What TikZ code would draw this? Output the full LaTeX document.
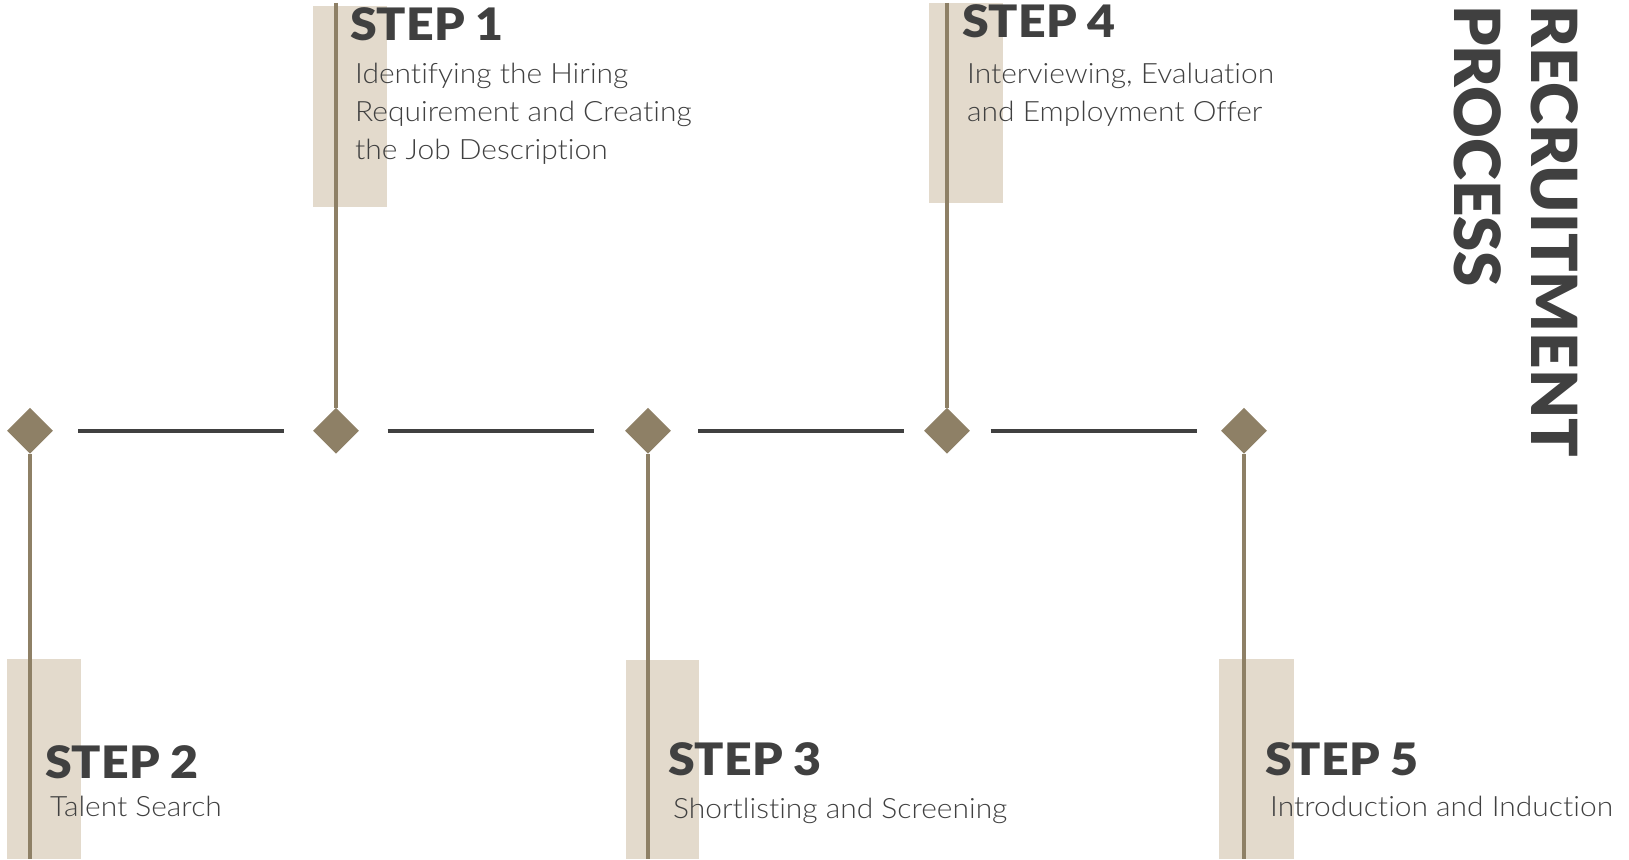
\documentclass[tikz,border=0pt]{standalone}
\usepackage{fontspec}
\usetikzlibrary{shapes.geometric}
\newfontfamily\headfont[FakeStretch=1.08]{Lato Black}
\newfontfamily\titlefont{Lato Black}
\newfontfamily\bodyfont[FakeStretch=1.07,Ligatures={NoCommon}]{Lato Light}
\definecolor{ink}{HTML}{404040}
\definecolor{taupe}{HTML}{8E8066}
\definecolor{sand}{HTML}{E3DACC}
\tikzset{
  mark node/.style={diamond, fill=taupe, draw=none, inner sep=0pt, minimum width=46pt, minimum height=46pt},
  band/.style={fill=sand, draw=none},
  stem/.style={draw=taupe, line width=3.2pt},
  rail/.style={draw=ink, line width=4pt},
  stephead/.style={anchor=base west, inner sep=0pt, text=ink, font=\headfont\fontsize{44.7}{50}\selectfont},
  stepbody/.style={anchor=base west, inner sep=0pt, text=ink, align=left, font=\bodyfont\fontsize{28}{38}\selectfont},
  titletext/.style={anchor=base west, inner sep=0pt, rotate=-90, text=ink, font=\titlefont\fontsize{63.6}{70}\selectfont}
}
\begin{document}
\begin{tikzpicture}[x=1pt,y=-1pt]
\useasboundingbox[fill=white] (0,0) rectangle (1629,859);
% bands
\fill[band] (313,6) rectangle (387,207);
\fill[band] (929,3) rectangle (1003,203);
\fill[band] (7,659) rectangle (81,859);
\fill[band] (626,660) rectangle (699,859);
\fill[band] (1219,659) rectangle (1294,859);
% diamonds
\node[mark node] (d1) at (30,430.7) {};
\node[mark node] (d2) at (336,430.7) {};
\node[mark node] (d3) at (648,430.7) {};
\node[mark node] (d4) at (947,430.7) {};
\node[mark node] (d5) at (1244,430.7) {};
% stem ends
\coordinate (t1) at (336,3);
\coordinate (t4) at (947,3);
\coordinate (b2) at (30,859);
\coordinate (b3) at (648,859);
\coordinate (b5) at (1244,859);
\draw[stem] (t1) -- (d2.north);
\draw[stem] (t4) -- (d4.north);
\draw[stem] (d1.south) -- (b2);
\draw[stem] (d3.south) -- (b3);
\draw[stem] (d5.south) -- (b5);
% rails
\draw[rail, shorten <=25pt, shorten >=29pt] (d1.east) -- (d2.west);
\draw[rail, shorten <=28.5pt, shorten >=31pt] (d2.east) -- (d3.west);
\draw[rail, shorten <=27pt, shorten >=19.5pt] (d3.east) -- (d4.west);
\draw[rail, shorten <=20.5pt, shorten >=23.6pt] (d4.east) -- (d5.west);
% texts (multi-line nodes are placed by their last baseline)
\node[stephead] (h1) at (350,40.7) {STEP 1};
\node[stepbody] (s1) at (355,159.3) {Identifying the Hiring\\Requirement and Creating\\the Job Description};
\node[stephead] (h4) at (962,37.4) {STEP 4};
\node[stepbody] (s4) at (967,121) {Interviewing, Evaluation\\and Employment Offer};
\node[stephead] (h2) at (45,778) {STEP 2};
\node[stepbody] (s2) at (50,816) {Talent Search};
\node[stephead] (h3) at (668,775) {STEP 3};
\node[stepbody] (s3) at (673,818) {Shortlisting and Screening};
\node[stephead] (h5) at (1265,775) {STEP 5};
\node[stepbody] (s5) at (1270,816) {Introduction and Induction};
% title
\node[titletext] (r1) at (1531.7,5) {RECRUITMENT};
\node[titletext] (r2) at (1454.3,5) {PROCESS};
\end{tikzpicture}
\end{document}
